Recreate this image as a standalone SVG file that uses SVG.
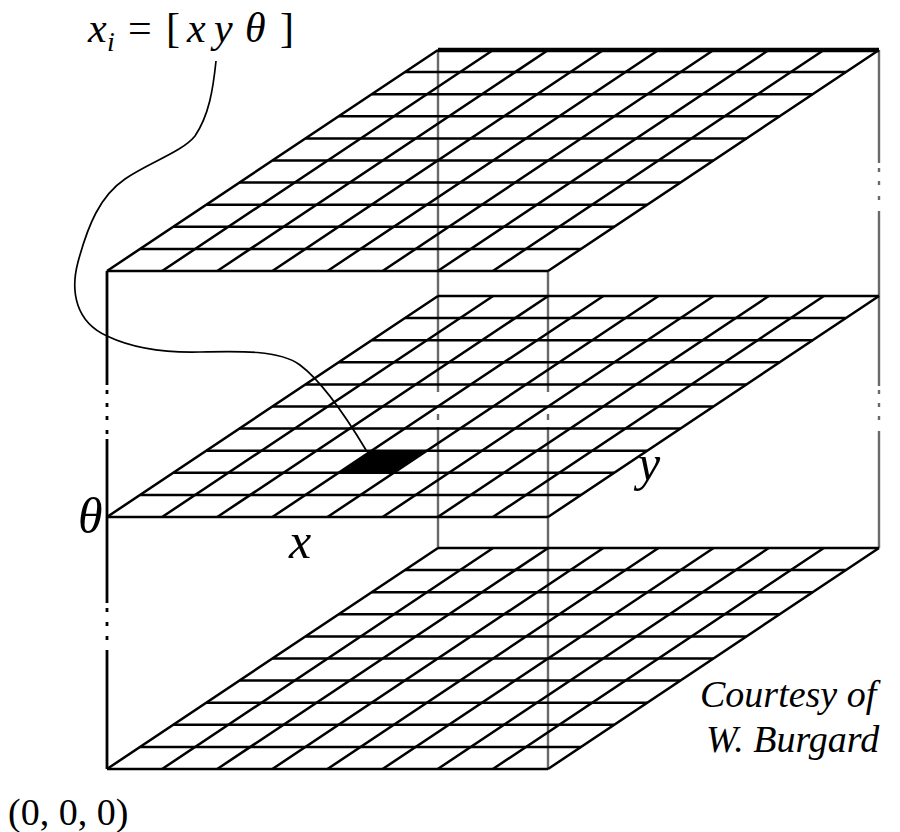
<svg xmlns="http://www.w3.org/2000/svg" xmlns:xlink="http://www.w3.org/1999/xlink" width="900" height="832" viewBox="0 0 900 832">
<style>
.grid{fill:none;stroke:#000;stroke-width:2.5}
.edge{fill:none;stroke:#000;stroke-width:2.8}
.hid{fill:none;stroke:#6a6a6a;stroke-width:2.4}
.lead{fill:none;stroke:#000;stroke-width:1.7}
.lbl{font-family:"Liberation Serif","Times New Roman",serif;font-style:italic;fill:#000}
.up{font-family:"Liberation Serif","Times New Roman",serif;fill:#000}
</style>
<defs>
<g id="grid">
<path class="grid" d="M0,0H441M33.1,-22.1H474.1M66.2,-44.2H507.2M99.3,-66.3H540.3M132.4,-88.4H573.4M165.5,-110.5H606.5M198.6,-132.6H639.6M231.7,-154.7H672.7M264.8,-176.8H705.8M297.9,-198.9H738.9M331,-221H772"/>
<path class="grid" d="M0,0L331,-221M55.125,0L386.125,-221M110.25,0L441.25,-221M165.375,0L496.375,-221M220.5,0L551.5,-221M275.625,0L606.625,-221M330.75,0L661.75,-221M385.875,0L716.875,-221M441,0L772,-221"/>
</g>
</defs>
<rect width="900" height="832" fill="#fff"/>
<g id="box-hidden">
<path class="hid" d="M438,50V392M438,414V420M438,427V548"/>
<path class="hid" d="M548,271V392M548,414V420M548,427V769"/>
<path class="hid" d="M879,50V163M879,168V172M879,181V185M879,196V200M879,211V386M879,390V394M879,403V407M879,416V420M879,431V548"/>
</g>
<g id="layer-bottom" transform="translate(107,769)"><use xlink:href="#grid"/></g>
<g id="layer-middle" transform="translate(107,517)"><use xlink:href="#grid"/>
<polygon id="cell" points="231.6,-44.2 286.7,-44.2 319.8,-66.3 264.7,-66.3" fill="#000"/></g>
<g id="layer-top" transform="translate(107,271)"><use xlink:href="#grid"/>
<path d="M331,-221H772" stroke="#000" stroke-width="4.5" fill="none"/></g>
<g id="box-front">
<path class="edge" d="M107,271V385M107,390V394M107,403V407M107,416V420M107,430V434M107,439V603M107,608V612M107,622V626M107,636V640M107,650V769"/>
</g>
<g id="connectors">
<path class="lead" d="M216,61C213,90 209,115 195,136C182,152 150,162 125,179C100,196 88,225 78,262C70,292 76,322 107,336C130,347 160,353 200,352C240,351 280,350 300,365C320,380 345,415 366,450"/>
</g>
<g id="label-state">
<text class="lbl" font-size="42" y="42"><tspan x="88">x</tspan><tspan x="107" y="51" font-size="28">i</tspan><tspan x="128" y="42" class="up" font-style="normal">=</tspan><tspan x="166" font-style="normal">[</tspan><tspan x="187">x</tspan><tspan x="214">y</tspan><tspan x="245">θ</tspan><tspan x="280" font-style="normal">]</tspan></text>
</g>
<g id="label-theta"><text class="lbl" font-size="50" x="78" y="533">θ</text></g>
<g id="label-x"><text class="lbl" font-size="50" x="289" y="558">x</text></g>
<g id="label-y"><text class="lbl" font-size="50" x="638" y="480">y</text></g>
<g id="label-origin"><text class="up" font-size="38" x="8" y="825">(0, 0, 0)</text></g>
<g id="label-credit">
<text class="lbl" font-size="38" x="700" y="707">Courtesy of</text>
<text class="lbl" font-size="38" x="706" y="752">W. Burgard</text>
</g>
</svg>
